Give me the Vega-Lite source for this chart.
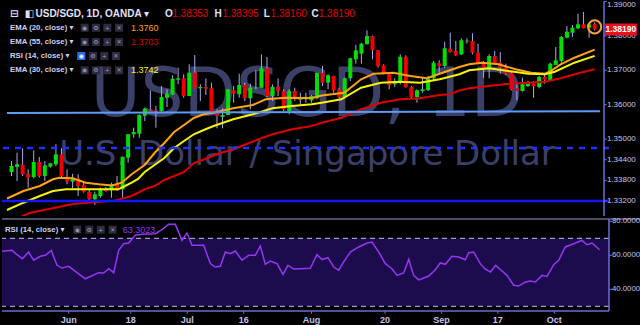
{
"$schema": "https://vega.github.io/schema/vega-lite/v6.json",
"background": "#000000",
"padding": 0,
"spacing": 0,
"config": {
 "view": {"stroke": null},
 "font": "Liberation Sans, DejaVu Sans, sans-serif"
},
"datasets": {
 "candles": [
{"k":-11,"o":1.34044,"h":1.34363,"l":1.33927,"c":1.34218},
{"k":-10,"o":1.34189,"h":1.34605,"l":1.33782,"c":1.34267},
{"k":-9,"o":1.34267,"h":1.34733,"l":1.33927,"c":1.33977},
{"k":-8,"o":1.33994,"h":1.34122,"l":1.33587,"c":1.33878},
{"k":-7,"o":1.33898,"h":1.34674,"l":1.33860,"c":1.34334},
{"k":-6,"o":1.34334,"h":1.34480,"l":1.33878,"c":1.33927},
{"k":-5,"o":1.33927,"h":1.34363,"l":1.33782,"c":1.34238},
{"k":-4,"o":1.34198,"h":1.34314,"l":1.34169,"c":1.34296},
{"k":-3,"o":1.34267,"h":1.34849,"l":1.34218,"c":1.34558},
{"k":-2,"o":1.34558,"h":1.34733,"l":1.33878,"c":1.33927},
{"k":-1,"o":1.33907,"h":1.34122,"l":1.33686,"c":1.33762},
{"k":0,"o":1.33762,"h":1.33994,"l":1.33570,"c":1.33878},
{"k":1,"o":1.33860,"h":1.33977,"l":1.33346,"c":1.33637},
{"k":2,"o":1.33666,"h":1.33733,"l":1.33442,"c":1.33471},
{"k":3,"o":1.33462,"h":1.33541,"l":1.33201,"c":1.33250},
{"k":4,"o":1.33250,"h":1.33471,"l":1.33084,"c":1.33395},
{"k":5,"o":1.33346,"h":1.33587,"l":1.33296,"c":1.33529},
{"k":6,"o":1.33541,"h":1.33608,"l":1.33471,"c":1.33491},
{"k":7,"o":1.33512,"h":1.33733,"l":1.33296,"c":1.33686},
{"k":8,"o":1.33686,"h":1.33927,"l":1.33491,"c":1.33512},
{"k":9,"o":1.33541,"h":1.34488,"l":1.33296,"c":1.34488},
{"k":10,"o":1.34459,"h":1.35140,"l":1.34314,"c":1.35140},
{"k":11,"o":1.35140,"h":1.35331,"l":1.35041,"c":1.35206},
{"k":12,"o":1.35157,"h":1.35721,"l":1.35041,"c":1.35701},
{"k":13,"o":1.35680,"h":1.35913,"l":1.35526,"c":1.35884},
{"k":14,"o":1.35875,"h":1.36419,"l":1.35817,"c":1.35837},
{"k":15,"o":1.35837,"h":1.35962,"l":1.35331,"c":1.35817},
{"k":16,"o":1.35817,"h":1.36544,"l":1.35797,"c":1.36224},
{"k":17,"o":1.36203,"h":1.36448,"l":1.35933,"c":1.36320},
{"k":18,"o":1.36302,"h":1.36855,"l":1.36282,"c":1.36756},
{"k":19,"o":1.36727,"h":1.37076,"l":1.36593,"c":1.36767},
{"k":20,"o":1.36767,"h":1.36884,"l":1.36203,"c":1.36253},
{"k":21,"o":1.36253,"h":1.37174,"l":1.36253,"c":1.36930},
{"k":22,"o":1.36930,"h":1.37445,"l":1.36477,"c":1.36477},
{"k":23,"o":1.36477,"h":1.36593,"l":1.36108,"c":1.36515},
{"k":24,"o":1.36515,"h":1.36767,"l":1.36282,"c":1.36465},
{"k":25,"o":1.36477,"h":1.36640,"l":1.35797,"c":1.35797},
{"k":26,"o":1.35817,"h":1.35866,"l":1.35314,"c":1.35671},
{"k":27,"o":1.35642,"h":1.35895,"l":1.35314,"c":1.35701},
{"k":28,"o":1.35701,"h":1.36448,"l":1.35701,"c":1.36448},
{"k":29,"o":1.36419,"h":1.36544,"l":1.36058,"c":1.36320},
{"k":30,"o":1.36302,"h":1.36901,"l":1.36203,"c":1.36573},
{"k":31,"o":1.36573,"h":1.36640,"l":1.36108,"c":1.36186},
{"k":32,"o":1.36186,"h":1.36610,"l":1.35866,"c":1.36494},
{"k":33,"o":1.36477,"h":1.37000,"l":1.36448,"c":1.36494},
{"k":34,"o":1.36494,"h":1.37465,"l":1.36494,"c":1.37058},
{"k":35,"o":1.37058,"h":1.37387,"l":1.36224,"c":1.36253},
{"k":36,"o":1.36253,"h":1.36593,"l":1.36108,"c":1.36523},
{"k":37,"o":1.36523,"h":1.36767,"l":1.36253,"c":1.36398},
{"k":38,"o":1.36398,"h":1.36448,"l":1.35817,"c":1.35866},
{"k":39,"o":1.35817,"h":1.36448,"l":1.35721,"c":1.36398},
{"k":40,"o":1.36398,"h":1.36494,"l":1.36108,"c":1.36157},
{"k":41,"o":1.36145,"h":1.36349,"l":1.36012,"c":1.36174},
{"k":42,"o":1.36157,"h":1.36349,"l":1.36058,"c":1.36186},
{"k":43,"o":1.36128,"h":1.36282,"l":1.36058,"c":1.36253},
{"k":44,"o":1.36186,"h":1.36930,"l":1.36157,"c":1.36930},
{"k":45,"o":1.36930,"h":1.37125,"l":1.36544,"c":1.36640},
{"k":46,"o":1.36640,"h":1.36884,"l":1.36448,"c":1.36855},
{"k":47,"o":1.36834,"h":1.36840,"l":1.36349,"c":1.36419},
{"k":48,"o":1.36448,"h":1.36494,"l":1.36186,"c":1.36224},
{"k":49,"o":1.36224,"h":1.36785,"l":1.36186,"c":1.36767},
{"k":50,"o":1.36767,"h":1.37366,"l":1.36689,"c":1.37349},
{"k":51,"o":1.37320,"h":1.37735,"l":1.37192,"c":1.37581},
{"k":52,"o":1.37483,"h":1.37802,"l":1.37192,"c":1.37773},
{"k":53,"o":1.37756,"h":1.38163,"l":1.37756,"c":1.37997},
{"k":54,"o":1.37997,"h":1.38010,"l":1.37320,"c":1.37581},
{"k":55,"o":1.37581,"h":1.37590,"l":1.37076,"c":1.37125},
{"k":56,"o":1.37145,"h":1.37174,"l":1.36884,"c":1.36901},
{"k":57,"o":1.36930,"h":1.36940,"l":1.36448,"c":1.36573},
{"k":58,"o":1.36593,"h":1.36767,"l":1.36515,"c":1.36689},
{"k":59,"o":1.36640,"h":1.37465,"l":1.36593,"c":1.37395},
{"k":60,"o":1.37395,"h":1.37436,"l":1.36494,"c":1.36515},
{"k":61,"o":1.36515,"h":1.36544,"l":1.36186,"c":1.36224},
{"k":62,"o":1.36224,"h":1.36448,"l":1.36058,"c":1.36419},
{"k":63,"o":1.36398,"h":1.36785,"l":1.36349,"c":1.36448},
{"k":64,"o":1.36427,"h":1.36834,"l":1.36398,"c":1.36767},
{"k":65,"o":1.36767,"h":1.37270,"l":1.36689,"c":1.37221},
{"k":66,"o":1.37203,"h":1.37291,"l":1.36930,"c":1.37125},
{"k":67,"o":1.37125,"h":1.37831,"l":1.37076,"c":1.37640},
{"k":68,"o":1.37628,"h":1.38093,"l":1.37512,"c":1.37532},
{"k":69,"o":1.37561,"h":1.37852,"l":1.37416,"c":1.37436},
{"k":70,"o":1.37465,"h":1.37930,"l":1.37445,"c":1.37872},
{"k":71,"o":1.37843,"h":1.37930,"l":1.37773,"c":1.37860},
{"k":72,"o":1.37852,"h":1.38076,"l":1.37465,"c":1.37512},
{"k":73,"o":1.37512,"h":1.37773,"l":1.37174,"c":1.37192},
{"k":74,"o":1.37192,"h":1.37270,"l":1.36785,"c":1.37029},
{"k":75,"o":1.37029,"h":1.37465,"l":1.36767,"c":1.37416},
{"k":76,"o":1.37416,"h":1.37561,"l":1.37174,"c":1.37192},
{"k":77,"o":1.37221,"h":1.37532,"l":1.36901,"c":1.37076},
{"k":78,"o":1.37076,"h":1.37192,"l":1.36863,"c":1.36901},
{"k":79,"o":1.36930,"h":1.36959,"l":1.36419,"c":1.36448},
{"k":80,"o":1.36477,"h":1.36593,"l":1.36128,"c":1.36398},
{"k":81,"o":1.36398,"h":1.36785,"l":1.36378,"c":1.36593},
{"k":82,"o":1.36544,"h":1.36689,"l":1.36515,"c":1.36610},
{"k":83,"o":1.36610,"h":1.36689,"l":1.36203,"c":1.36535},
{"k":84,"o":1.36515,"h":1.36834,"l":1.36477,"c":1.36805},
{"k":85,"o":1.36805,"h":1.36884,"l":1.36610,"c":1.36727},
{"k":86,"o":1.36709,"h":1.37221,"l":1.36689,"c":1.37192},
{"k":87,"o":1.37154,"h":1.37677,"l":1.37154,"c":1.37291},
{"k":88,"o":1.37270,"h":1.37997,"l":1.37221,"c":1.37968},
{"k":89,"o":1.37948,"h":1.38288,"l":1.37930,"c":1.38122},
{"k":90,"o":1.38093,"h":1.38317,"l":1.37968,"c":1.38238},
{"k":91,"o":1.38221,"h":1.38645,"l":1.38192,"c":1.38337},
{"k":92,"o":1.38337,"h":1.38695,"l":1.38221,"c":1.38221},
{"k":93,"o":1.38238,"h":1.38355,"l":1.37948,"c":1.38337},
{"k":94,"o":1.38353,"h":1.38395,"l":1.38160,"c":1.38190}
 ],
 "ema": [
{"s":"EMA20","k":-11.81,"v":1.33273},{"s":"EMA20","k":-8.85,"v":1.33491},{"s":"EMA20","k":-5.91,"v":1.33637},{"s":"EMA20","k":-3.54,"v":1.33831},{"s":"EMA20","k":-2.37,"v":1.33878},{"s":"EMA20","k":0,"v":1.33860},{"s":"EMA20","k":2.36,"v":1.33733},{"s":"EMA20","k":4.71,"v":1.33686},{"s":"EMA20","k":7.08,"v":1.33651},{"s":"EMA20","k":8.85,"v":1.33733},{"s":"EMA20","k":10.63,"v":1.33977},{"s":"EMA20","k":12.98,"v":1.34247},{"s":"EMA20","k":14.75,"v":1.34596},{"s":"EMA20","k":16.52,"v":1.34887},{"s":"EMA20","k":18.29,"v":1.35206},{"s":"EMA20","k":20.06,"v":1.35410},{"s":"EMA20","k":21.83,"v":1.35613},{"s":"EMA20","k":23.61,"v":1.35721},{"s":"EMA20","k":25.38,"v":1.35767},{"s":"EMA20","k":28.92,"v":1.35895},{"s":"EMA20","k":32.45,"v":1.35991},{"s":"EMA20","k":34.76,"v":1.36157},{"s":"EMA20","k":38.30,"v":1.36203},{"s":"EMA20","k":43.08,"v":1.36195},{"s":"EMA20","k":44.85,"v":1.36267},{"s":"EMA20","k":48.93,"v":1.36349},{"s":"EMA20","k":51.94,"v":1.36738},{"s":"EMA20","k":54.24,"v":1.36901},{"s":"EMA20","k":57.78,"v":1.36930},{"s":"EMA20","k":60.79,"v":1.36834},{"s":"EMA20","k":63.80,"v":1.36767},{"s":"EMA20","k":66.63,"v":1.36930},{"s":"EMA20","k":69.64,"v":1.37096},{"s":"EMA20","k":71.41,"v":1.37174},{"s":"EMA20","k":73.72,"v":1.37221},{"s":"EMA20","k":76.73,"v":1.37174},{"s":"EMA20","k":79.74,"v":1.37029},{"s":"EMA20","k":82.57,"v":1.36930},{"s":"EMA20","k":85.05,"v":1.36901},{"s":"EMA20","k":86.11,"v":1.36980},{"s":"EMA20","k":87.88,"v":1.37174},{"s":"EMA20","k":90.36,"v":1.37366},{"s":"EMA20","k":94,"v":1.37600},
{"s":"EMA30","k":-11.81,"v":1.32939},{"s":"EMA30","k":-8.85,"v":1.33151},{"s":"EMA30","k":-5.91,"v":1.33346},{"s":"EMA30","k":-3.54,"v":1.33491},{"s":"EMA30","k":-1.19,"v":1.33541},{"s":"EMA30","k":2.36,"v":1.33541},{"s":"EMA30","k":5.90,"v":1.33541},{"s":"EMA30","k":8.20,"v":1.33541},{"s":"EMA30","k":9.44,"v":1.33637},{"s":"EMA30","k":10.63,"v":1.33738},{"s":"EMA30","k":11.79,"v":1.33840},{"s":"EMA30","k":12.98,"v":1.34044},{"s":"EMA30","k":14.75,"v":1.34247},{"s":"EMA30","k":16.52,"v":1.34451},{"s":"EMA30","k":18.29,"v":1.34741},{"s":"EMA30","k":20.06,"v":1.34945},{"s":"EMA30","k":21.83,"v":1.35140},{"s":"EMA30","k":23.61,"v":1.35265},{"s":"EMA30","k":25.38,"v":1.35381},{"s":"EMA30","k":28.92,"v":1.35576},{"s":"EMA30","k":32.45,"v":1.35721},{"s":"EMA30","k":35.99,"v":1.35895},{"s":"EMA30","k":39.54,"v":1.35962},{"s":"EMA30","k":43.08,"v":1.36012},{"s":"EMA30","k":44.85,"v":1.36058},{"s":"EMA30","k":48.39,"v":1.36157},{"s":"EMA30","k":51.94,"v":1.36494},{"s":"EMA30","k":55.48,"v":1.36640},{"s":"EMA30","k":59.03,"v":1.36669},{"s":"EMA30","k":62.57,"v":1.36640},{"s":"EMA30","k":66.11,"v":1.36738},{"s":"EMA30","k":69.64,"v":1.36884},{"s":"EMA30","k":71.41,"v":1.37000},{"s":"EMA30","k":74.95,"v":1.37058},{"s":"EMA30","k":78.49,"v":1.36980},{"s":"EMA30","k":82.03,"v":1.36901},{"s":"EMA30","k":85.05,"v":1.36884},{"s":"EMA30","k":86.82,"v":1.36959},{"s":"EMA30","k":90.36,"v":1.37221},{"s":"EMA30","k":94,"v":1.37420},
{"s":"EMA55","k":-9.16,"v":1.32750},{"s":"EMA55","k":-7.74,"v":1.32852},{"s":"EMA55","k":-2.96,"v":1.33012},{"s":"EMA55","k":0,"v":1.33113},{"s":"EMA55","k":2.89,"v":1.33151},{"s":"EMA55","k":7.67,"v":1.33215},{"s":"EMA55","k":10.63,"v":1.33346},{"s":"EMA55","k":12.98,"v":1.33541},{"s":"EMA55","k":14.75,"v":1.33637},{"s":"EMA55","k":16.52,"v":1.33811},{"s":"EMA55","k":18.29,"v":1.33927},{"s":"EMA55","k":20.06,"v":1.34044},{"s":"EMA55","k":21.83,"v":1.34305},{"s":"EMA55","k":23.61,"v":1.34407},{"s":"EMA55","k":26.56,"v":1.34596},{"s":"EMA55","k":28.92,"v":1.34698},{"s":"EMA55","k":31.22,"v":1.34849},{"s":"EMA55","k":34.23,"v":1.35041},{"s":"EMA55","k":35.99,"v":1.35140},{"s":"EMA55","k":39.54,"v":1.35285},{"s":"EMA55","k":43.08,"v":1.35381},{"s":"EMA55","k":44.85,"v":1.35477},{"s":"EMA55","k":48.39,"v":1.35622},{"s":"EMA55","k":51.94,"v":1.35866},{"s":"EMA55","k":55.48,"v":1.36058},{"s":"EMA55","k":59.03,"v":1.36157},{"s":"EMA55","k":62.57,"v":1.36186},{"s":"EMA55","k":66.11,"v":1.36282},{"s":"EMA55","k":67.88,"v":1.36302},{"s":"EMA55","k":69.64,"v":1.36413},{"s":"EMA55","k":71.41,"v":1.36477},{"s":"EMA55","k":74.95,"v":1.36544},{"s":"EMA55","k":78.49,"v":1.36610},{"s":"EMA55","k":82.03,"v":1.36640},{"s":"EMA55","k":85.05,"v":1.36669},{"s":"EMA55","k":87.88,"v":1.36767},{"s":"EMA55","k":91.43,"v":1.36930},{"s":"EMA55","k":94,"v":1.37030}
 ],
 "rsi": [
{"k":-11.81,"r":62.4},{"k":-10.04,"r":62.9},{"k":-9.2,"r":60.5},{"k":-8.2,"r":58.0},{"k":-7.1,"r":61.9},{"k":-6.2,"r":57.1},{"k":-5.03,"r":59.4},{"k":-4.14,"r":60.0},{"k":-3.08,"r":62.9},{"k":-2.07,"r":54.1},{"k":-1.19,"r":52.5},{"k":0,"r":53.5},{"k":2.94,"r":46.2},{"k":5.31,"r":49.8},{"k":6.2,"r":49.6},{"k":7.08,"r":52.1},{"k":7.97,"r":49.8},{"k":8.85,"r":62.9},{"k":9.74,"r":66.8},{"k":10.63,"r":67.2},{"k":11.79,"r":71.8},{"k":12.98,"r":72.4},{"k":15.34,"r":72.7},{"k":16.52,"r":75.1},{"k":17.71,"r":78.2},{"k":18.88,"r":78.2},{"k":20.06,"r":68.8},{"k":20.95,"r":73.1},{"k":21.83,"r":65.9},{"k":23.91,"r":65.9},{"k":25.08,"r":55.1},{"k":25.96,"r":53.1},{"k":26.85,"r":53.5},{"k":27.73,"r":61.9},{"k":28.62,"r":60.9},{"k":29.5,"r":62.5},{"k":30.69,"r":57.1},{"k":31.88,"r":60.0},{"k":33.04,"r":60.0},{"k":33.93,"r":65.5},{"k":34.82,"r":54.7},{"k":35.7,"r":56.6},{"k":36.89,"r":55.1},{"k":37.95,"r":48.8},{"k":38.83,"r":54.1},{"k":39.84,"r":51.9},{"k":42.78,"r":52.4},{"k":43.97,"r":60.4},{"k":44.86,"r":57.5},{"k":45.92,"r":58.6},{"k":46.93,"r":53.1},{"k":47.81,"r":51.2},{"k":48.7,"r":56.1},{"k":49.87,"r":61.9},{"k":51.35,"r":64.9},{"k":52.82,"r":67.2},{"k":53.71,"r":67.8},{"k":54.9,"r":61.9},{"k":56.07,"r":55.1},{"k":57.25,"r":52.1},{"k":58.14,"r":48.2},{"k":59.32,"r":49.6},{"k":60.21,"r":57.6},{"k":61.09,"r":48.2},{"k":61.98,"r":45.6},{"k":62.56,"r":46.2},{"k":63.75,"r":47.8},{"k":64.92,"r":51.5},{"k":65.8,"r":55.5},{"k":66.69,"r":54.7},{"k":67.87,"r":59.4},{"k":69.06,"r":59.0},{"k":70.23,"r":57.4},{"k":70.83,"r":61.5},{"k":71.72,"r":61.9},{"k":72.89,"r":55.1},{"k":73.77,"r":51.8},{"k":74.7,"r":50.2},{"k":75.6,"r":54.1},{"k":76.5,"r":51.5},{"k":77.62,"r":48.2},{"k":78.8,"r":42.4},{"k":79.69,"r":41.9},{"k":80.86,"r":44.3},{"k":81.74,"r":44.9},{"k":82.63,"r":44.3},{"k":83.82,"r":48.2},{"k":84.7,"r":47.6},{"k":85.89,"r":54.5},{"k":86.77,"r":57.1},{"k":87.94,"r":64.9},{"k":89.43,"r":66.8},{"k":90.9,"r":68.8},{"k":91.79,"r":66.2},{"k":92.67,"r":67.2},{"k":94,"r":63.3}
 ],
 "trend": [{"k":-11.81,"p":1.35759},{"k":94.97,"p":1.35808}],
 "levels": [{"name":"dash","p":1.34741},{"name":"solid","p":1.332}],
 "rsiband": [{"top":70,"bottom":30}],
 "rsilevels": [{"r":70},{"r":30}],
 "pticks": [{"v":1.39},{"v":1.38},{"v":1.37},{"v":1.36},{"v":1.35},{"v":1.344},{"v":1.338},{"v":1.332}],
 "rticks": [{"v":80},{"v":60},{"v":40}],
 "xticks": [{"k":0,"t":"Jun"},{"k":11,"t":"18"},{"k":21,"t":"Jul"},{"k":31,"t":"16"},{"k":43,"t":"Aug"},{"k":56,"t":"20"},{"k":66,"t":"Sep"},{"k":76,"t":"17"},{"k":86,"t":"Oct"}],
 "legend1": [
{"k":-11.28,"p":1.38628,"t":"⊟","kind":"title"},
{"k":-8.62,"p":1.38628,"t":"◧","kind":"title"},
{"k":-6.68,"p":1.38628,"t":"USD/SGD, 1D, OANDA ▾","kind":"title"},
{"k":16.65,"p":1.38628,"t":"O","kind":"title"},
{"k":25.55,"p":1.38628,"t":"H","kind":"title"},
{"k":34.41,"p":1.38628,"t":"L","kind":"title"},
{"k":43.0,"p":1.38628,"t":"C","kind":"title"},
{"k":17.94,"p":1.38628,"t":"1.38353","kind":"ohlc"},
{"k":26.97,"p":1.38628,"t":"1.38395","kind":"ohlc"},
{"k":35.65,"p":1.38628,"t":"1.38160","kind":"ohlc"},
{"k":44.32,"p":1.38628,"t":"1.38190","kind":"ohlc"},
{"k":-11.28,"p":1.38238,"t":"EMA (20, close) ▾","kind":"lbl"},
{"k":-11.28,"p":1.37823,"t":"EMA (55, close) ▾","kind":"lbl"},
{"k":-11.28,"p":1.37416,"t":"RSI (14, close) ▾","kind":"lbl"},
{"k":-11.28,"p":1.37000,"t":"EMA (30, close) ▾","kind":"lbl"},
{"k":10.5,"p":1.38238,"t":"1.3760","kind":"EMA20"},
{"k":10.5,"p":1.37823,"t":"1.3703","kind":"EMA55"},
{"k":10.5,"p":1.37000,"t":"1.3742","kind":"EMA30"}
 ],
 "icons1": [
{"k":2.18,"p":1.38238,"g":"◉","on":0},{"k":4.21,"p":1.38238,"g":"⚙","on":0},{"k":6.25,"p":1.38238,"g":"+","on":0},{"k":8.37,"p":1.38238,"g":"✕","on":0},
{"k":2.18,"p":1.37823,"g":"◉","on":0},{"k":4.21,"p":1.37823,"g":"⚙","on":0},{"k":6.25,"p":1.37823,"g":"+","on":0},{"k":8.37,"p":1.37823,"g":"✕","on":0},
{"k":1.56,"p":1.37416,"g":"◉","on":1},{"k":3.68,"p":1.37416,"g":"⚙","on":0},{"k":5.72,"p":1.37416,"g":"+","on":0},{"k":7.79,"p":1.37416,"g":"✕","on":0},
{"k":2.18,"p":1.37000,"g":"◉","on":0},{"k":4.21,"p":1.37000,"g":"⚙","on":0},{"k":6.25,"p":1.37000,"g":"+","on":0},{"k":8.37,"p":1.37000,"g":"✕","on":0}
 ],
 "icons2": [
{"k":1.52,"r":75.06,"g":"◉"},{"k":3.65,"r":75.06,"g":"⚙"},{"k":5.68,"r":75.06,"g":"+"},{"k":7.79,"r":75.06,"g":"✕"}
 ]
},
"vconcat": [
 {
  "width": 607,
  "height": 215,
  "data": {"values": [{"id": 1}]},
  "layer": [
   {"mark": {"type": "text", "font": "DejaVu Sans", "fontSize": 68, "color": "#3c4069", "align": "center", "baseline": "alphabetic"},
    "encoding": {"x": {"datum": 42.2, "type": "quantitative", "scale": {"domain": [-11.81, 95.68], "nice": false, "zero": false}, "axis": null},
                 "y": {"datum": 1.35686, "type": "quantitative", "scale": {"domain": [1.327645, 1.390145], "nice": false, "zero": false}, "axis": null},
                 "text": {"value": "USDSGD, 1D"}}},
   {"mark": {"type": "text", "font": "DejaVu Sans", "fontSize": 34, "color": "#3c4069", "align": "center", "baseline": "alphabetic"},
    "encoding": {"x": {"datum": 42.2, "type": "quantitative", "scale": {"domain": [-11.81, 95.68], "nice": false, "zero": false}, "axis": null},
                 "y": {"datum": 1.34247, "type": "quantitative", "scale": {"domain": [1.327645, 1.390145], "nice": false, "zero": false}, "axis": null},
                 "text": {"value": "U.S. Dollar / Singapore Dollar"}}},
   {"data": {"name": "candles"},
    "mark": {"type": "rule", "color": "#a8a8f6", "strokeWidth": 1, "clip": true},
    "encoding": {"x": {"field": "k", "type": "quantitative", "scale": {"domain": [-11.81, 95.68], "nice": false, "zero": false}, "axis": null},
                 "y": {"field": "l", "type": "quantitative", "scale": {"domain": [1.327645, 1.390145], "nice": false, "zero": false}, "axis": null},
                 "y2": {"field": "h"}}},
   {"data": {"name": "candles"},
    "mark": {"type": "bar", "size": 4, "clip": true},
    "encoding": {"x": {"field": "k", "type": "quantitative", "scale": {"domain": [-11.81, 95.68], "nice": false, "zero": false}, "axis": null},
                 "y": {"field": "o", "type": "quantitative", "scale": {"domain": [1.327645, 1.390145], "nice": false, "zero": false}, "axis": null},
                 "y2": {"field": "c"},
                 "color": {"condition": {"test": "datum.c >= datum.o", "value": "#00e000"}, "value": "#f00000"}}},
   {"data": {"name": "ema"},
    "mark": {"type": "line", "strokeWidth": 2, "clip": true},
    "encoding": {"x": {"field": "k", "type": "quantitative", "scale": {"domain": [-11.81, 95.68], "nice": false, "zero": false}, "axis": null},
                 "y": {"field": "v", "type": "quantitative", "scale": {"domain": [1.327645, 1.390145], "nice": false, "zero": false}, "axis": null},
                 "color": {"field": "s", "type": "nominal", "scale": {"domain": ["EMA20", "EMA30", "EMA55"], "range": ["#ffa412", "#f6f600", "#dc0000"]}, "legend": null},
                 "order": {"field": "k", "type": "quantitative"}}},
   {"data": {"name": "trend"},
    "mark": {"type": "line", "color": "#5b9cf6", "strokeWidth": 2, "clip": true},
    "encoding": {"x": {"field": "k", "type": "quantitative", "scale": {"domain": [-11.81, 95.68], "nice": false, "zero": false}, "axis": null},
                 "y": {"field": "p", "type": "quantitative", "scale": {"domain": [1.327645, 1.390145], "nice": false, "zero": false}, "axis": null}}},
   {"data": {"name": "levels"},
    "transform": [{"filter": "datum.name == 'dash'"}],
    "mark": {"type": "rule", "color": "#1f30ff", "strokeWidth": 2.5, "strokeDash": [6, 6]},
    "encoding": {"y": {"field": "p", "type": "quantitative", "scale": {"domain": [1.327645, 1.390145], "nice": false, "zero": false}, "axis": null}}},
   {"data": {"name": "levels"},
    "transform": [{"filter": "datum.name == 'solid'"}],
    "mark": {"type": "rule", "color": "#1515ff", "strokeWidth": 2.5},
    "encoding": {"y": {"field": "p", "type": "quantitative", "scale": {"domain": [1.327645, 1.390145], "nice": false, "zero": false}, "axis": null}}},
   {"mark": {"type": "rule", "color": "#6c6cd8", "strokeWidth": 1.5},
    "encoding": {"x": {"datum": 95.68, "type": "quantitative", "scale": {"domain": [-11.81, 95.68], "nice": false, "zero": false}, "axis": null}}},
   {"data": {"name": "pticks"},
    "mark": {"type": "rule", "color": "#6c6cd8", "strokeWidth": 1, "clip": false},
    "encoding": {"x": {"datum": 95.68, "type": "quantitative", "scale": {"domain": [-11.81, 95.68], "nice": false, "zero": false}, "axis": null},
                 "x2": {"datum": 96.2},
                 "y": {"field": "v", "type": "quantitative", "scale": {"domain": [1.327645, 1.390145], "nice": false, "zero": false}, "axis": null}}},
   {"data": {"name": "pticks"},
    "transform": [{"filter": "datum.v < 1.385"}],
    "mark": {"type": "text", "color": "#c4c4ee", "fontSize": 8, "align": "left", "baseline": "middle", "clip": false},
    "encoding": {"x": {"datum": 96.2, "type": "quantitative", "scale": {"domain": [-11.81, 95.68], "nice": false, "zero": false}, "axis": null},
                 "y": {"field": "v", "type": "quantitative", "scale": {"domain": [1.327645, 1.390145], "nice": false, "zero": false}, "axis": null},
                 "text": {"field": "v", "format": ".5f"}}},
   {"data": {"name": "pticks"},
    "transform": [{"filter": "datum.v > 1.385"}],
    "mark": {"type": "text", "color": "#c4c4ee", "fontSize": 8, "align": "left", "baseline": "top", "clip": false},
    "encoding": {"x": {"datum": 96.2, "type": "quantitative", "scale": {"domain": [-11.81, 95.68], "nice": false, "zero": false}, "axis": null},
                 "y": {"field": "v", "type": "quantitative", "scale": {"domain": [1.327645, 1.390145], "nice": false, "zero": false}, "axis": null},
                 "text": {"field": "v", "format": ".5f"}}},
   {"mark": {"type": "point", "shape": "circle", "filled": false, "stroke": "#f2a534", "strokeWidth": 2, "size": 170, "opacity": 1},
    "encoding": {"x": {"datum": 94, "type": "quantitative", "scale": {"domain": [-11.81, 95.68], "nice": false, "zero": false}, "axis": null},
                 "y": {"datum": 1.38262, "type": "quantitative", "scale": {"domain": [1.327645, 1.390145], "nice": false, "zero": false}, "axis": null}}},
   {"mark": {"type": "rect", "color": "#e8101a", "clip": false},
    "encoding": {"x": {"datum": 95.86, "type": "quantitative", "scale": {"domain": [-11.81, 95.68], "nice": false, "zero": false}, "axis": null},
                 "x2": {"datum": 101.6},
                 "y": {"datum": 1.38363, "type": "quantitative", "scale": {"domain": [1.327645, 1.390145], "nice": false, "zero": false}, "axis": null},
                 "y2": {"datum": 1.38015}}},
   {"mark": {"type": "text", "color": "#ffffff", "fontSize": 8.5, "fontWeight": "bold", "align": "center", "baseline": "middle", "clip": false},
    "encoding": {"x": {"datum": 98.7, "type": "quantitative", "scale": {"domain": [-11.81, 95.68], "nice": false, "zero": false}, "axis": null},
                 "y": {"datum": 1.3819, "type": "quantitative", "scale": {"domain": [1.327645, 1.390145], "nice": false, "zero": false}, "axis": null},
                 "text": {"value": "1.38190"}}},
   {"data": {"name": "legend1"},
    "transform": [{"filter": "datum.kind == 'title'"}],
    "mark": {"type": "text", "color": "#e0e0fa", "fontSize": 10, "fontWeight": "bold", "align": "left", "baseline": "middle"},
    "encoding": {"x": {"field": "k", "type": "quantitative", "scale": {"domain": [-11.81, 95.68], "nice": false, "zero": false}, "axis": null},
                 "y": {"field": "p", "type": "quantitative", "scale": {"domain": [1.327645, 1.390145], "nice": false, "zero": false}, "axis": null},
                 "text": {"field": "t"}}},
   {"data": {"name": "legend1"},
    "transform": [{"filter": "datum.kind == 'ohlc'"}],
    "mark": {"type": "text", "color": "#e40000", "fontSize": 10, "align": "left", "baseline": "middle"},
    "encoding": {"x": {"field": "k", "type": "quantitative", "scale": {"domain": [-11.81, 95.68], "nice": false, "zero": false}, "axis": null},
                 "y": {"field": "p", "type": "quantitative", "scale": {"domain": [1.327645, 1.390145], "nice": false, "zero": false}, "axis": null},
                 "text": {"field": "t"}}},
   {"data": {"name": "legend1"},
    "transform": [{"filter": "datum.kind == 'lbl'"}],
    "mark": {"type": "text", "color": "#cfcff2", "fontSize": 7.8, "fontWeight": "bold", "align": "left", "baseline": "middle"},
    "encoding": {"x": {"field": "k", "type": "quantitative", "scale": {"domain": [-11.81, 95.68], "nice": false, "zero": false}, "axis": null},
                 "y": {"field": "p", "type": "quantitative", "scale": {"domain": [1.327645, 1.390145], "nice": false, "zero": false}, "axis": null},
                 "text": {"field": "t"}}},
   {"data": {"name": "legend1"},
    "transform": [{"filter": "indexof(['EMA20','EMA30','EMA55'], datum.kind) >= 0"}],
    "mark": {"type": "text", "fontSize": 9, "align": "left", "baseline": "middle"},
    "encoding": {"x": {"field": "k", "type": "quantitative", "scale": {"domain": [-11.81, 95.68], "nice": false, "zero": false}, "axis": null},
                 "y": {"field": "p", "type": "quantitative", "scale": {"domain": [1.327645, 1.390145], "nice": false, "zero": false}, "axis": null},
                 "color": {"field": "kind", "type": "nominal", "scale": {"domain": ["EMA20", "EMA30", "EMA55"], "range": ["#ffa412", "#f6f600", "#dc0000"]}, "legend": null},
                 "text": {"field": "t"}}},
   {"data": {"name": "icons1"},
    "mark": {"type": "point", "shape": "square", "filled": true, "size": 64, "opacity": 1},
    "encoding": {"x": {"field": "k", "type": "quantitative", "scale": {"domain": [-11.81, 95.68], "nice": false, "zero": false}, "axis": null},
                 "y": {"field": "p", "type": "quantitative", "scale": {"domain": [1.327645, 1.390145], "nice": false, "zero": false}, "axis": null},
                 "color": {"condition": {"test": "datum.on == 1", "value": "#1e6ef0"}, "value": "#2c2c3e"}}},
   {"data": {"name": "icons1"},
    "mark": {"type": "text", "font": "DejaVu Sans", "fontSize": 6, "align": "center", "baseline": "middle"},
    "encoding": {"x": {"field": "k", "type": "quantitative", "scale": {"domain": [-11.81, 95.68], "nice": false, "zero": false}, "axis": null},
                 "y": {"field": "p", "type": "quantitative", "scale": {"domain": [1.327645, 1.390145], "nice": false, "zero": false}, "axis": null},
                 "color": {"condition": {"test": "datum.on == 1", "value": "#ffffff"}, "value": "#9a9ab4"},
                 "text": {"field": "g"}}}
  ]
 },
 {
  "width": 607,
  "height": 92,
  "data": {"values": [{"id": 1}]},
  "layer": [
   {"data": {"name": "rsiband"},
    "mark": {"type": "rect", "color": "#1d0c4d"},
    "encoding": {"x": {"datum": -11.81, "type": "quantitative", "scale": {"domain": [-11.81, 95.68], "nice": false, "zero": false}, "axis": null},
                 "x2": {"datum": 95.68},
                 "y": {"field": "top", "type": "quantitative", "scale": {"domain": [27.24, 81.35], "nice": false, "zero": false}, "axis": null},
                 "y2": {"field": "bottom"}}},
   {"data": {"name": "rsilevels"},
    "mark": {"type": "rule", "color": "#c6bff5", "strokeWidth": 1, "strokeDash": [5, 4]},
    "encoding": {"y": {"field": "r", "type": "quantitative", "scale": {"domain": [27.24, 81.35], "nice": false, "zero": false}, "axis": null}}},
   {"data": {"name": "rsi"},
    "mark": {"type": "line", "color": "#9436f2", "strokeWidth": 1.5, "clip": true},
    "encoding": {"x": {"field": "k", "type": "quantitative", "scale": {"domain": [-11.81, 95.68], "nice": false, "zero": false}, "axis": null},
                 "y": {"field": "r", "type": "quantitative", "scale": {"domain": [27.24, 81.35], "nice": false, "zero": false}, "axis": null}}},
   {"mark": {"type": "rule", "color": "#4d4d68", "strokeWidth": 2, "clip": false},
    "encoding": {"x": {"datum": -11.81, "type": "quantitative", "scale": {"domain": [-11.81, 95.68], "nice": false, "zero": false}, "axis": null},
                 "x2": {"datum": 101.6},
                 "y": {"datum": 81.35, "type": "quantitative", "scale": {"domain": [27.24, 81.35], "nice": false, "zero": false}, "axis": null}}},
   {"mark": {"type": "rule", "color": "#6c6cd8", "strokeWidth": 1.5},
    "encoding": {"x": {"datum": 95.68, "type": "quantitative", "scale": {"domain": [-11.81, 95.68], "nice": false, "zero": false}, "axis": null}}},
   {"mark": {"type": "rule", "color": "#6c6cd8", "strokeWidth": 1.5},
    "encoding": {"y": {"datum": 27.24, "type": "quantitative", "scale": {"domain": [27.24, 81.35], "nice": false, "zero": false}, "axis": null}}},
   {"data": {"name": "rticks"},
    "mark": {"type": "rule", "color": "#6c6cd8", "strokeWidth": 1, "clip": false},
    "encoding": {"x": {"datum": 95.68, "type": "quantitative", "scale": {"domain": [-11.81, 95.68], "nice": false, "zero": false}, "axis": null},
                 "x2": {"datum": 96.2},
                 "y": {"field": "v", "type": "quantitative", "scale": {"domain": [27.24, 81.35], "nice": false, "zero": false}, "axis": null}}},
   {"data": {"name": "rticks"},
    "mark": {"type": "text", "color": "#c4c4ee", "fontSize": 7.8, "align": "left", "baseline": "middle", "clip": false},
    "encoding": {"x": {"datum": 96.2, "type": "quantitative", "scale": {"domain": [-11.81, 95.68], "nice": false, "zero": false}, "axis": null},
                 "y": {"field": "v", "type": "quantitative", "scale": {"domain": [27.24, 81.35], "nice": false, "zero": false}, "axis": null},
                 "text": {"field": "v", "format": ".4f"}}},
   {"data": {"name": "xticks"},
    "mark": {"type": "rule", "color": "#6c6cd8", "strokeWidth": 1, "clip": false},
    "encoding": {"x": {"field": "k", "type": "quantitative", "scale": {"domain": [-11.81, 95.68], "nice": false, "zero": false}, "axis": null},
                 "y": {"datum": 27.24, "type": "quantitative", "scale": {"domain": [27.24, 81.35], "nice": false, "zero": false}, "axis": null},
                 "y2": {"datum": 25.6}}},
   {"data": {"name": "xticks"},
    "mark": {"type": "text", "color": "#c4c4ee", "fontSize": 9, "fontWeight": "bold", "align": "center", "baseline": "middle", "clip": false},
    "encoding": {"x": {"field": "k", "type": "quantitative", "scale": {"domain": [-11.81, 95.68], "nice": false, "zero": false}, "axis": null},
                 "y": {"datum": 21.9, "type": "quantitative", "scale": {"domain": [27.24, 81.35], "nice": false, "zero": false}, "axis": null},
                 "text": {"field": "t"}}},
   {"mark": {"type": "text", "color": "#cfcff2", "fontSize": 7.8, "fontWeight": "bold", "align": "left", "baseline": "middle"},
    "encoding": {"x": {"datum": -11.28, "type": "quantitative", "scale": {"domain": [-11.81, 95.68], "nice": false, "zero": false}, "axis": null},
                 "y": {"datum": 75.06, "type": "quantitative", "scale": {"domain": [27.24, 81.35], "nice": false, "zero": false}, "axis": null},
                 "text": {"value": "RSI (14, close) ▾"}}},
   {"mark": {"type": "text", "color": "#9436f2", "fontSize": 9, "align": "left", "baseline": "middle"},
    "encoding": {"x": {"datum": 9.56, "type": "quantitative", "scale": {"domain": [-11.81, 95.68], "nice": false, "zero": false}, "axis": null},
                 "y": {"datum": 75.06, "type": "quantitative", "scale": {"domain": [27.24, 81.35], "nice": false, "zero": false}, "axis": null},
                 "text": {"value": "63.3023"}}},
   {"data": {"name": "icons2"},
    "mark": {"type": "point", "shape": "square", "filled": true, "size": 64, "color": "#2c2c3e", "opacity": 1},
    "encoding": {"x": {"field": "k", "type": "quantitative", "scale": {"domain": [-11.81, 95.68], "nice": false, "zero": false}, "axis": null},
                 "y": {"field": "r", "type": "quantitative", "scale": {"domain": [27.24, 81.35], "nice": false, "zero": false}, "axis": null}}},
   {"data": {"name": "icons2"},
    "mark": {"type": "text", "font": "DejaVu Sans", "fontSize": 6, "color": "#9a9ab4", "align": "center", "baseline": "middle"},
    "encoding": {"x": {"field": "k", "type": "quantitative", "scale": {"domain": [-11.81, 95.68], "nice": false, "zero": false}, "axis": null},
                 "y": {"field": "r", "type": "quantitative", "scale": {"domain": [27.24, 81.35], "nice": false, "zero": false}, "axis": null},
                 "text": {"field": "g"}}}
  ]
 }
]
}
